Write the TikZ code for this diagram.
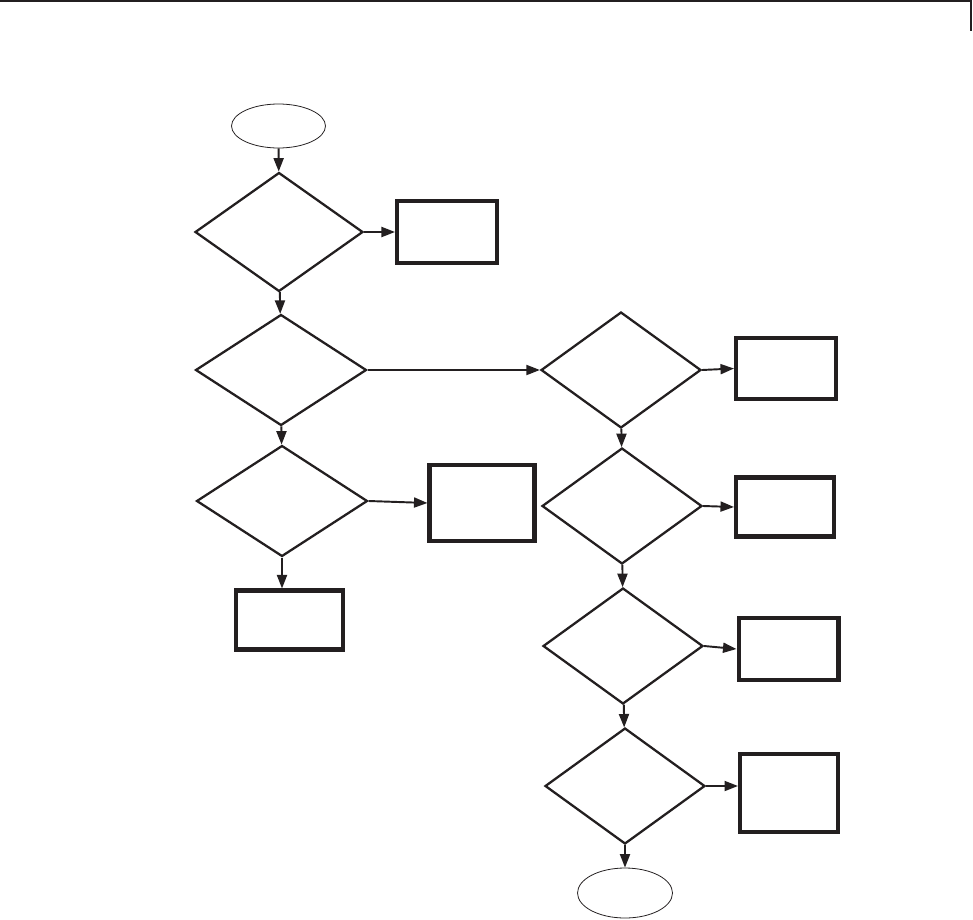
\documentclass[tikz,border=0pt]{standalone}
\usepackage{xcolor}
\usepackage{tikz}
\usetikzlibrary{arrows.meta, positioning, shapes.geometric}
\definecolor{Ink}{HTML}{231F20}

\begin{document}
\begin{tikzpicture}[
  x=0.02cm, y=-0.02cm,
  terminal/.style={ellipse, draw=Ink, line width=0.45pt, inner sep=0pt, minimum width=1.88cm, minimum height=0.88cm},
  decision/.style={diamond, draw=Ink, line width=1.3pt, inner sep=0pt, minimum width=3.42cm, minimum height=2.22cm},
  check/.style={decision, minimum width=3.2cm, minimum height=2.32cm},
  outcome/.style={rectangle, draw=Ink, line width=2.3pt, inner sep=0pt, minimum width=2.0cm, minimum height=1.24cm},
  arrow/.style={-{Triangle[length=0.27cm, width=0.2cm]}, line width=1.1pt, draw=Ink}
]
\useasboundingbox (0,0) rectangle (973,919);
\draw[Ink, line width=0.8pt] (0,1) -- (971,1) -- (971,31);

\node[terminal] (start) at (278.5,126) {};
\node[decision, minimum width=3.36cm, minimum height=2.38cm] (first) at (279,232) {};
\node[outcome] (firstout) at (447,232) {};
\node[decision] (second) at (281,370) {};
\node[decision] (third) at (282,501) {};
\node[outcome, minimum width=2.1cm, minimum height=1.52cm] (thirdout) at (482,503) {};
\node[outcome, minimum width=2.14cm, minimum height=1.18cm] (fallback) at (289.5,620) {};

\node[check] (ruleA) at (621,370) {};
\node[check] (ruleB) at (622,506) {};
\node[check] (ruleC) at (623,646) {};
\node[check] (ruleD) at (625,786) {};
\node[outcome, minimum height=1.22cm] (outA) at (786,368.5) {};
\node[outcome, minimum width=1.96cm, minimum height=1.18cm] (outB) at (785,507) {};
\node[outcome, minimum height=1.24cm] (outC) at (788.5,649) {};
\node[outcome, minimum width=1.96cm, minimum height=1.56cm] (outD) at (789,793) {};
\node[terminal, minimum width=1.9cm, minimum height=1.0cm] (stop) at (625,893) {};

\draw[arrow] (start) -- (first);
\draw[arrow] (first.east) -- (firstout.west);
\draw[arrow] (first) -- (second);
\draw[arrow] (second.east) -- (ruleA.west);
\draw[arrow] (second) -- (third);
\draw[arrow] (third.east) -- (thirdout.west);
\draw[arrow] (third.south) -- (third.south |- fallback.north);
\draw[arrow] (ruleA.east) -- (outA.west);
\draw[arrow] (ruleA) -- (ruleB);
\draw[arrow] (ruleB.east) -- (outB.west);
\draw[arrow] (ruleB) -- (ruleC);
\draw[arrow] (ruleC.east) -- (outC.west);
\draw[arrow] (ruleC) -- (ruleD);
\draw[arrow] (ruleD.east) -- (ruleD.east -| outD.west);
\draw[arrow] (ruleD) -- (stop);
\end{tikzpicture}
\end{document}
